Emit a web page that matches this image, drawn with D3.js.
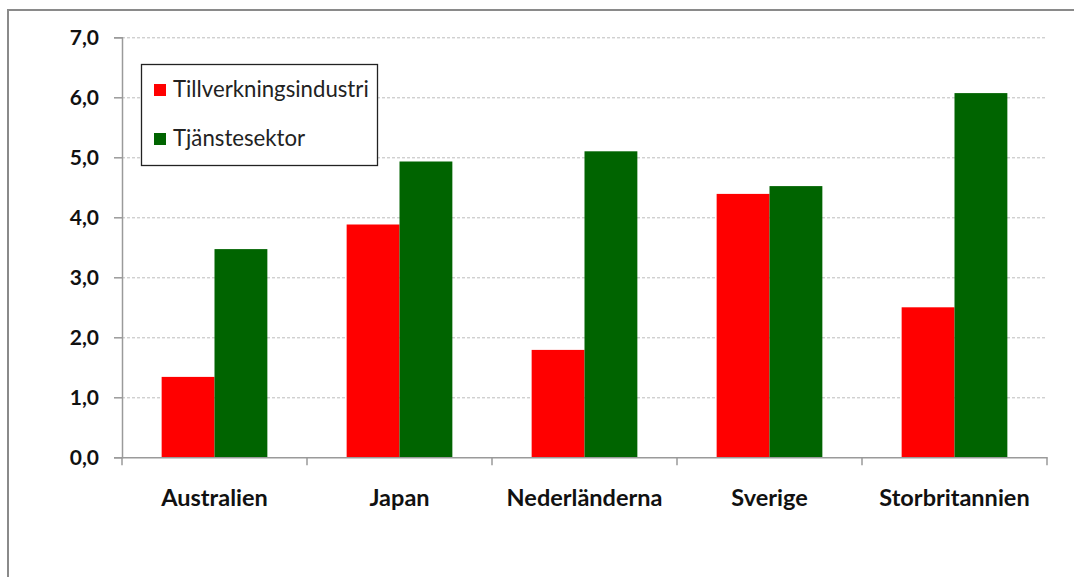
<!DOCTYPE html>
<html>
<head>
<meta charset="utf-8">
<script src="https://cdn.jsdelivr.net/npm/d3@7"></script>
<style>
  html, body { margin: 0; padding: 0; background: #fff; }
  svg { display: block; }
</style>
</head>
<body>
<svg id="chart" width="1074" height="577"></svg>
<script>
// Country groups along the x axis
const categories = ["Australien", "Japan", "Nederländerna", "Sverige", "Storbritannien"];
// Series names and values per country
const seriesNames = ["Tillverkningsindustri", "Tjänstesektor"];
const manufacturing = [1.34, 3.88, 1.79, 4.39, 2.50];
const services = [3.47, 4.93, 5.10, 4.52, 6.07];
const seriesColors = ["#ff0000", "#006400"];
const yTicks = [0, 1, 2, 3, 4, 5, 6, 7];

const svg = d3.select("#chart");
const font = "Lato, 'Open Sans', sans-serif";

// Outer chart frame (extends past the window edges)
svg.append("rect")
  .attr("x", 8).attr("y", 10)
  .attr("width", 1100).attr("height", 600)
  .attr("fill", "none").attr("stroke", "#8a8a8a").attr("stroke-width", 2);

const plot = { left: 122, right: 1047, top: 37.3, bottom: 457.3 };

const x0 = d3.scaleBand().domain(categories).range([plot.left, plot.right]).paddingInner(0).paddingOuter(0);
const groupWidth = x0.bandwidth() * 2 / 3.5;
const x1 = d3.scaleBand().domain(seriesNames).range([0, groupWidth]).padding(0);
const y = d3.scaleLinear().domain([0, 7]).range([plot.bottom, plot.top]);

// Dashed horizontal gridlines
svg.append("g").selectAll("line")
  .data(yTicks.filter(d => d > 0))
  .join("line")
  .attr("x1", plot.left).attr("x2", plot.right)
  .attr("y1", d => y(d) + 0.5).attr("y2", d => y(d) + 0.5)
  .attr("stroke", "#bdbdbd").attr("stroke-width", 1)
  .attr("stroke-dasharray", "3,2");

// Bars
const data = categories.map((c, i) => ({ cat: c, vals: [manufacturing[i], services[i]] }));
const groups = svg.append("g").selectAll("g")
  .data(data).join("g")
  .attr("transform", d => `translate(${x0(d.cat) + (x0.bandwidth() - groupWidth) / 2},0)`);
groups.selectAll("rect")
  .data(d => d.vals.map((v, j) => ({ v, s: seriesNames[j], j })))
  .join("rect")
  .attr("x", d => x1(d.s))
  .attr("y", d => y(d.v))
  .attr("width", x1.bandwidth())
  .attr("height", d => y(0) - y(d.v))
  .attr("fill", d => seriesColors[d.j]);

// Y axis
const yAxis = d3.axisLeft(y).tickValues(yTicks).tickSize(8).tickPadding(15)
  .tickFormat(d => d3.format(".1f")(d).replace(".", ","));
const yg = svg.append("g").attr("transform", `translate(${plot.left},0)`).call(yAxis);
yg.select(".domain").attr("stroke", "#9a9a9a").attr("stroke-width", 1.5);
yg.selectAll(".tick line").attr("stroke", "#9a9a9a").attr("stroke-width", 1.5);
yg.selectAll(".tick text")
  .attr("font-family", font).attr("font-weight", "bold").attr("font-size", 21).attr("fill", "#111");

// X axis
const xAxis = d3.axisBottom(x0).tickSize(0).tickPadding(32);
const xg = svg.append("g").attr("transform", `translate(0,${plot.bottom})`).call(xAxis);
xg.select(".domain").attr("stroke", "#9a9a9a").attr("stroke-width", 1.5);
xg.selectAll(".tick text")
  .attr("font-family", font).attr("font-weight", "bold").attr("font-size", 23.5).attr("fill", "#111");
// Category separator ticks
xg.selectAll(".sep")
  .data(d3.range(categories.length + 1))
  .join("line")
  .attr("class", "sep")
  .attr("x1", i => plot.left + i * x0.step()).attr("x2", i => plot.left + i * x0.step())
  .attr("y1", 0).attr("y2", 8)
  .attr("stroke", "#9a9a9a").attr("stroke-width", 1.5);

// Legend
const legend = svg.append("g");
legend.append("rect")
  .attr("x", 141.5).attr("y", 64.5).attr("width", 236).attr("height", 101)
  .attr("fill", "#fff").attr("stroke", "#222").attr("stroke-width", 1.3);
seriesNames.forEach((name, i) => {
  const base = 97 + i * 49;
  legend.append("rect")
    .attr("x", 154).attr("y", base - 13).attr("width", 12).attr("height", 12)
    .attr("fill", seriesColors[i]);
  legend.append("text")
    .attr("x", 173).attr("y", base)
    .attr("font-family", font).attr("font-size", 22.2).attr("fill", "#222")
    .text(name);
});
</script>
</body>
</html>
